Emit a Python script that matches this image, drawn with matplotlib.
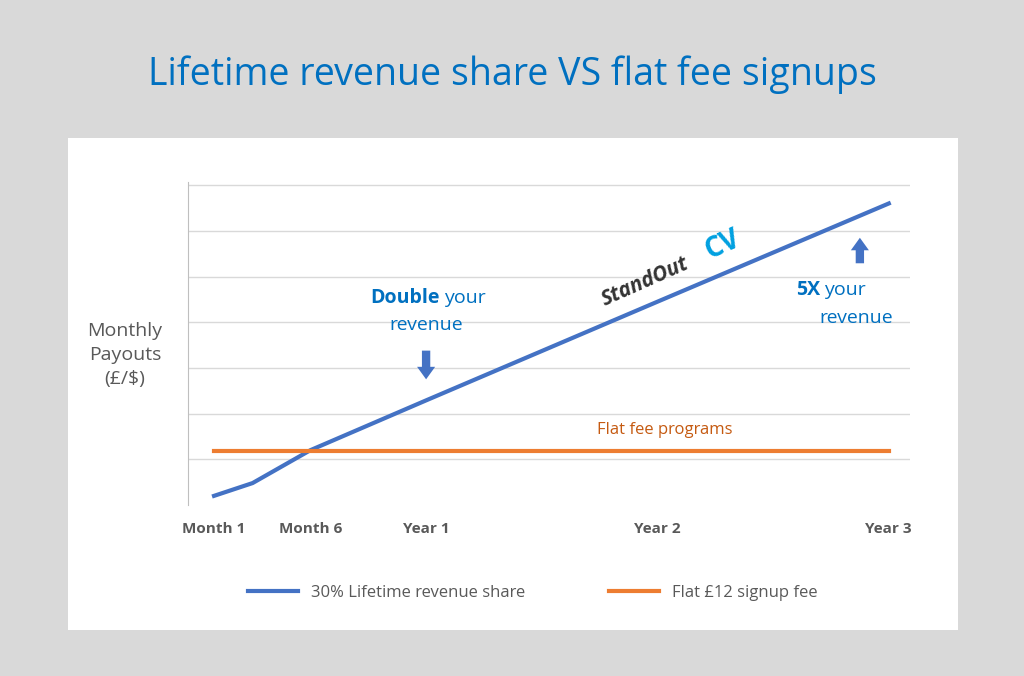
import matplotlib.pyplot as plt

# data (x in months, y in arbitrary payout units)
months = [1, 3, 6, 12, 24, 36]
revenue_share = [0.2, 0.48, 1.2, 2.29, 4.45, 6.6]
flat_fee = [1.18] * len(months)
tick_pos = [1, 6, 12, 24, 36]
tick_labels = ["Month 1", "Month 6", "Year 1", "Year 2", "Year 3"]

FONT = "Open Sans"
BLUE = "#4472c4"
ORANGE = "#ed7d31"
TXT_BLUE = "#0070c0"
GRAY = "#595959"

fig = plt.figure(figsize=(10.24, 6.76), dpi=100, facecolor="#d9d9d9")

# white panel behind the chart
bg = fig.add_axes([68 / 1024, 1 - 630 / 676, 890 / 1024, 492 / 676])
bg.set_facecolor("white")
bg.set_xticks([])
bg.set_yticks([])
for s in bg.spines.values():
    s.set_visible(False)
bg.set_zorder(0)

fig.text(0.5, 1 - 75 / 676, "Lifetime revenue share VS flat fee signups",
         ha="center", va="center", fontsize=27, color=TXT_BLUE, family=FONT)

ax = fig.add_axes([188 / 1024, 1 - 505 / 676, 722 / 1024, 323 / 676])
ax.set_zorder(1)
ax.set_facecolor("none")
ax.plot(months, revenue_share, color=BLUE, lw=3, label="30% Lifetime revenue share")
ax.plot(months, flat_fee, color=ORANGE, lw=3, label="Flat £12 signup fee")
ax.set_xlim(-0.35, 37.1)
ax.set_ylim(0, 7.07)
ax.set_yticks(range(1, 8))
ax.set_yticklabels([])
ax.tick_params(axis="y", length=0)
ax.grid(axis="y", color="#d9d9d9", lw=1)
ax.set_axisbelow(True)
ax.set_xticks(tick_pos)
ax.set_xticklabels(tick_labels, fontsize=11, fontweight="bold", color=GRAY, family=FONT)
ax.tick_params(axis="x", length=0, pad=12)
for s in ["top", "right", "bottom"]:
    ax.spines[s].set_visible(False)
ax.spines["left"].set_color("#bfbfbf")

fig.text(125 / 1024, 1 - 355 / 676, "Monthly\nPayouts\n(£/$)", ha="center", va="center",
         fontsize=14, color=GRAY, family=FONT, linespacing=1.4, zorder=3)

tk = dict(fontsize=14, color=TXT_BLUE, family=FONT, va="center")
ax.text(12.73, 4.53, "Double", ha="right", fontweight="bold", **tk)
ax.text(12.94, 4.53, "your", ha="left", **tk)
ax.text(12, 3.94, "revenue", ha="center", **tk)
ax.text(32.45, 4.70, "5X", ha="right", fontweight="bold", **tk)
ax.text(32.66, 4.70, "your", ha="left", **tk)
ax.text(34.3, 4.09, "revenue", ha="center", **tk)

arr = dict(arrowstyle="simple,head_width=1.3,head_length=0.9,tail_width=0.6",
           color=BLUE, lw=0)
ax.annotate("", xy=(12, 2.69), xytext=(12, 3.44), arrowprops=arr)
ax.annotate("", xy=(34.5, 5.91), xytext=(34.5, 5.23), arrowprops=arr)

ax.text(23.37, 4.88, "StandOut", rotation=24, ha="center", va="center", fontsize=15,
        fontweight="bold", fontstyle="italic", color="#333333", family=FONT)
ax.text(27.4, 5.69, "CV", rotation=24, ha="center", va="center", fontsize=20,
        fontweight="bold", color="#00a0e0", family=FONT)

ax.text(24.4, 1.64, "Flat fee programs", ha="center", va="center", fontsize=12,
        color="#c55a11", family=FONT)

leg = fig.legend(loc="center", bbox_to_anchor=(533 / 1024, 1 - 593 / 676), ncol=2,
                 frameon=False, handlelength=3, columnspacing=5,
                 prop={"family": FONT, "size": 12}, labelcolor=GRAY)
leg.set_zorder(3)

fig.savefig("out.png", dpi=100, facecolor=fig.get_facecolor())
